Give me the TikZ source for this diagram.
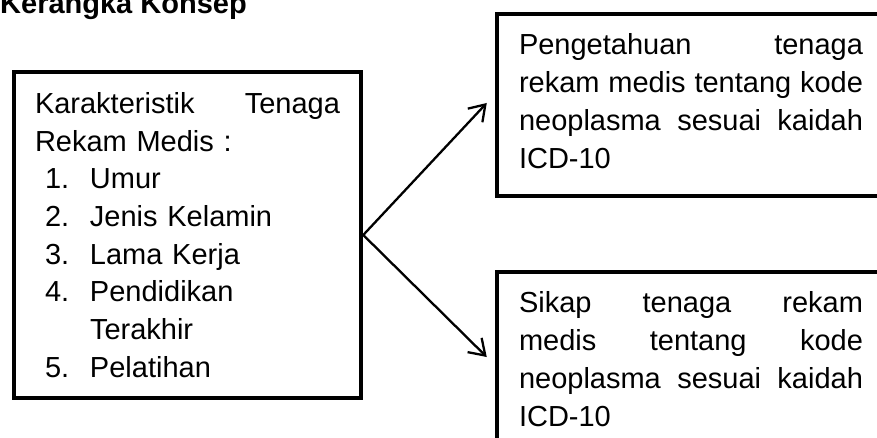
\documentclass[tikz,border=0pt]{standalone}
\usepackage{fontspec}
\setmainfont{Liberation Sans}
\usetikzlibrary{arrows.meta}

\newcommand{\bodyfont}{\fontsize{29pt}{37.7pt}\selectfont}
\newcommand{\litem}[2]{\hspace*{10pt}\makebox[45pt][l]{#1}#2}
\newcommand{\jleft}[1]{\makebox[305pt][s]{\spaceskip=0pt plus 1fil\relax #1}}
\newcommand{\jright}[1]{\makebox[344pt][s]{\spaceskip=0pt plus 1fil\relax #1}}
\newcommand{\lastline}{\rule[-8pt]{0pt}{8pt}}

\begin{document}
\begin{tikzpicture}[
    x=1pt, y=1pt,
    box/.style={draw, line width=4.5pt, align=left, font=\bodyfont, inner ysep=0pt},
    arrow/.style={-{Straight Barb[length=15pt, width=20pt]}, line width=2.3pt}
]
    \useasboundingbox (0,0) rectangle (877,-438);
    \clip (0,0) rectangle (877,-438);

    % Title
    \node[font=\fontsize{29pt}{35pt}\selectfont\bfseries, anchor=base west, inner sep=0pt] (title) at (0,-14) {Kerangka Konsep};

    % Characteristics
    \node[box, text width=305pt, inner xsep=21pt, minimum height=326pt] (chars) at (187.5,-235) {
        \jleft{Karakteristik Tenaga}\\
        Rekam Medis :\\
        \litem{1.}{Umur}\\
        \litem{2.}{Jenis Kelamin}\\
        \litem{3.}{Lama Kerja}\\
        \litem{4.}{Pendidikan}\\
        \hspace*{55pt}Terakhir\\
        \litem{5.}{Pelatihan}
    };

    % Outcomes
    \node[box, text width=344pt, inner xsep=22pt, minimum height=182pt] (know) at (691,-105) {
        \jright{Pengetahuan tenaga}\\
        \jright{rekam medis tentang kode}\\
        \jright{neoplasma sesuai kaidah}\\
        ICD-10\lastline
    };
    \node[box, text width=344pt, inner xsep=22pt, minimum height=182pt] (attitude) at (691,-363) {
        \jright{Sikap tenaga rekam}\\
        \jright{medis tentang kode}\\
        \jright{neoplasma sesuai kaidah}\\
        ICD-10\lastline
    };

    % Arrows
    \draw[arrow] (chars.east) -- ([xshift=-8pt, yshift=2pt]know.west);
    \draw[arrow] (chars.east) -- ([xshift=-8pt, yshift=6pt]attitude.west);
\end{tikzpicture}
\end{document}
